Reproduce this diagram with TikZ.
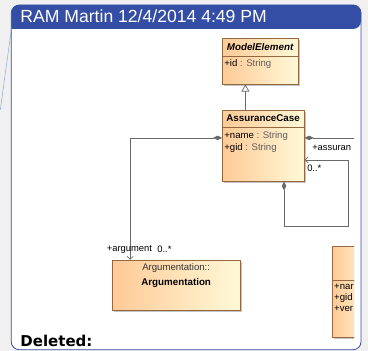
\documentclass[tikz,border=0pt]{standalone}
\usepackage{fontspec}
\setmainfont{Liberation Sans}
\newfontfamily\delfont{DejaVu Sans}
\usetikzlibrary{arrows.meta,shadows}

\definecolor{ramblue}{RGB}{52,78,165}
\definecolor{ramline}{RGB}{160,176,216}
\definecolor{clsorange}{RGB}{255,202,150}
\definecolor{clscream}{RGB}{255,249,216}
\definecolor{clsborder}{RGB}{150,104,64}
\definecolor{assocgray}{RGB}{105,105,105}
\definecolor{pagegray}{RGB}{240,240,240}
\definecolor{typegray}{RGB}{95,95,95}

\tikzset{
  umlclass/.style={draw=clsborder, line width=0.6pt, left color=clsorange, right color=clscream,
    drop shadow={shadow xshift=1.6pt, shadow yshift=-1.6pt, fill=black!45, opacity=0.5},
    inner sep=0pt, anchor=north west},
  clsname/.style={font=\fontsize{9.8}{11}\selectfont\bfseries, inner sep=0pt},
  attr/.style={font=\fontsize{9.6}{11}\selectfont, anchor=west, inner sep=0pt},
  rolelbl/.style={font=\fontsize{9.4}{10}\selectfont, inner sep=0pt},
  assoc/.style={draw=assocgray, line width=0.7pt},
  owner/.style={{Diamond[length=9pt,width=4.5pt,fill=assocgray]}-{Straight Barb[length=3pt,width=6pt]}},
}

\begin{document}
\begin{tikzpicture}[x=1pt,y=-1pt]

  % page and comment frame
  \fill[pagegray] (0,0) rectangle (368,351);
  \draw[ramline, line width=0.6pt] (11,30) -- (0,110);
  \fill[white, rounded corners=8pt] (11,5) rectangle (361,350);
  \fill[ramblue] (11,29) [rounded corners=8pt] |- (186,5) -| (361,29) [sharp corners] -- cycle;
  \node[anchor=base west, inner sep=0pt, text=white, font=\fontsize{17.6}{19}\selectfont] (title) at (20,23) {RAM Martin 12/4/2014 4:49 PM};

  \begin{scope}
    \clip (12,30) rectangle (354,349);

    % classes
    \node[umlclass, minimum width=76pt, minimum height=46pt] (modelelem) at (222,38) {};
    \draw[clsborder, line width=0.5pt] (222,56) -- (298,56);
    \node[clsname, font=\fontsize{9.8}{11}\selectfont\bfseries\itshape] (modelname) at (260,47) {ModelElement};
    \node[attr] (idattr) at (224,64) {+id \textcolor{typegray}{: String}};

    \node[umlclass, minimum width=82pt, minimum height=71pt] (assurcase) at (222,110) {};
    \draw[clsborder, line width=0.5pt] (222,127) -- (304,127);
    \node[clsname] (acname) at (263,118) {AssuranceCase};
    \node[attr] (nameattr) at (224,136) {+name \textcolor{typegray}{: String}};
    \node[attr] (gidattr) at (224,148) {+gid \textcolor{typegray}{: String}};

    \node[umlclass, minimum width=128pt, minimum height=50pt] (argum) at (112,260) {};
    \node[inner sep=0pt, font=\fontsize{9.6}{11}\selectfont, text=black!80] (argpkg) at (176,268) {Argumentation::};
    \node[clsname] (argname) at (176,283) {Argumentation};

    \node[umlclass, minimum width=40pt, minimum height=91pt] (rightcls) at (332,246) {};
    \draw[clsborder, line width=0.5pt] (332,280) -- (372,280);
    \node[attr] (rnar) at (334,287) {+nar};
    \node[attr] (rgid) at (334,298) {+gid};
    \node[attr] (rver) at (334,309) {+ver};

    % generalization
    \draw[assoc, -{Triangle[open,length=7pt,width=8pt]}] (assurcase.north -| modelelem.south) ++(-15pt,0) coordinate (genfoot) -- (genfoot |- modelelem.south);

    % compositions
    \draw[assoc, owner] ([yshift=-28pt]assurcase.north west) -| ([xshift=18pt]argum.north west);
    \node[rolelbl, anchor=east] (argrole) at (152,250) {+argument};
    \node[rolelbl, anchor=west] (argmult) at (157,249) {0..*};

    \coordinate (offright) at (362,138);
    \draw[assoc, {Diamond[length=9pt,width=4.5pt,fill=assocgray]}-] ([yshift=-28pt]assurcase.north east) -- (offright);
    \node[rolelbl, anchor=west] (acrole) at (312,148) {+assuran};

    \draw[assoc, owner] ([xshift=62pt]assurcase.south west) |- (348,227) |- ([yshift=-50pt]assurcase.north east);
    \node[rolelbl, anchor=west] (acmult) at (307,168) {0..*};
  \end{scope}

  % frame border and footer
  \draw[ramblue, line width=0.8pt, rounded corners=8pt] (11,5) rectangle (361,350);
  \node[anchor=base west, inner sep=0pt, font=\delfont\bfseries\fontsize{15}{16}\selectfont] (deleted) at (20,347) {Deleted:};

\end{tikzpicture}
\end{document}
